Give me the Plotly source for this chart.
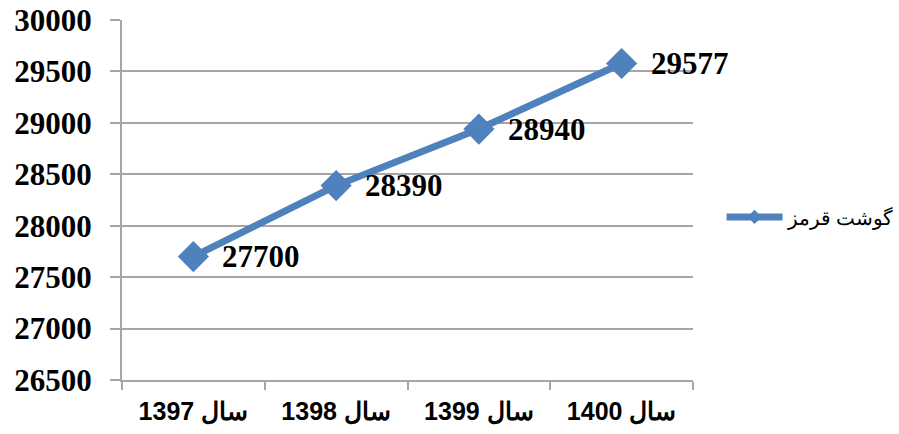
import plotly.graph_objects as go

# years (category labels) and red meat values
years = ["سال 1397", "سال 1398", "سال 1399", "سال 1400"]
red_meat = [27700, 28390, 28940, 29577]
series_name = "گوشت قرمز"

BLUE = "#4F81BD"
GRID = "#a6a6a6"

fig = go.Figure()
fig.add_trace(go.Scatter(
    x=years, y=red_meat, name=series_name, showlegend=False,
    mode="lines+markers",
    line=dict(color=BLUE, width=7),
    marker=dict(symbol="diamond", size=24, color=BLUE),
    cliponaxis=False,
))
# legend-only entry with a smaller diamond, like the original
fig.add_trace(go.Scatter(
    x=[None], y=[None], name=series_name, mode="lines+markers",
    line=dict(color=BLUE, width=7),
    marker=dict(symbol="diamond", size=11, color=BLUE),
))

# value labels to the right of each point
for xv, yv in zip(years, red_meat):
    fig.add_annotation(x=xv, y=yv, text=str(yv), showarrow=False,
                       xanchor="left", yanchor="middle", xshift=27,
                       font=dict(family="Liberation Serif", size=31, color="black", weight="bold"))

fig.update_layout(
    width=899, height=434,
    margin=dict(l=122, r=206, t=20, b=54, autoexpand=False),
    plot_bgcolor="white", paper_bgcolor="white",
    showlegend=True,
    legend=dict(x=1.05, y=0.453, xanchor="left", yanchor="middle", itemwidth=56,
                font=dict(family="Liberation Sans", size=20, color="black")),
)
fig.update_xaxes(
    type="category", range=[-0.5, 3.5], automargin=False,
    showgrid=False, showline=True, linecolor=GRID, linewidth=2,
    ticks="outside", tickson="boundaries", ticklen=8, tickcolor=GRID, tickwidth=2,
    tickfont_family="Liberation Sans", tickfont_size=25, tickfont_color="black",
    tickfont_weight="bold",
    ticklabelstandoff=8,
)
fig.update_yaxes(
    range=[26500, 30000], dtick=500, tickformat="d", automargin=False,
    ticklabeloverflow="allow",
    showgrid=True, gridcolor=GRID, gridwidth=2,
    showline=True, linecolor=GRID, linewidth=2,
    ticks="outside", ticklen=10, tickcolor=GRID, tickwidth=2,
    tickfont_family="Liberation Serif", tickfont_size=31, tickfont_color="black",
    tickfont_weight="bold",
    ticklabelstandoff=12, zeroline=False,
)

# drop the default 8px page margin so the figure fills the window
fig.write_html("out.html", config={"displayModeBar": False},
               post_script="document.body.style.margin='0';")
